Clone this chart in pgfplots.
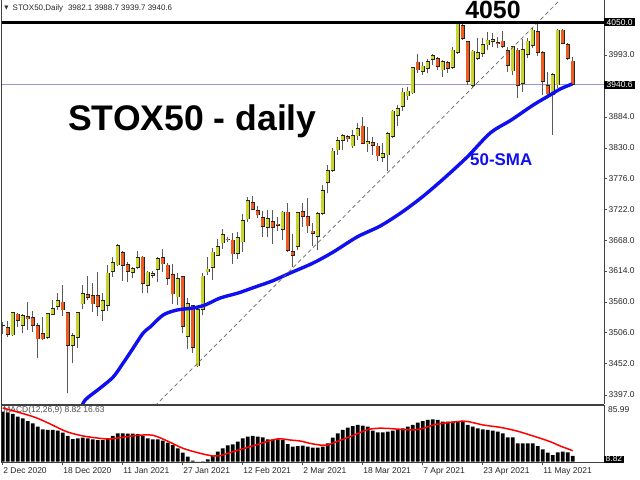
\documentclass[border=0pt]{standalone}
\usepackage{fontspec}
\setmainfont{Liberation Sans}
\newfontfamily\dejavu{DejaVu Sans}
\usepackage{pgfplots}
\pgfplotsset{compat=1.18}
\usepackage{pgfplotstable}

\definecolor{bull}{RGB}{200,212,40}
\definecolor{bear}{RGB}{240,90,30}
\definecolor{wick}{RGB}{90,90,90}
\definecolor{bidline}{RGB}{150,150,215}
\definecolor{smablue}{RGB}{15,15,240}
\newcommand\ticks{\fontsize{8.5}{10}\selectfont}

% daily candles: bar index, open, high, low, close
\pgfplotstableread{
i o h l c
1 3519.4 3525.2 3503.6 3518.2
2 3515.3 3526.9 3498.9 3503.1
3 3501.8 3542.7 3500.1 3541.6
4 3538.7 3540.9 3516.4 3526.9
5 3518.1 3538.7 3504.8 3535.7
6 3533.9 3560.2 3510.6 3529.9
7 3532.9 3544.4 3507.6 3518.1
8 3518.1 3522.4 3462.1 3494.8
9 3504.8 3532.9 3493.1 3494.8
10 3497.1 3540.9 3494.8 3539.2
11 3538.1 3563.2 3536.9 3548.7
12 3551.5 3575.0 3545.7 3562.0
13 3559.7 3589.5 3535.2 3545.7
14 3541.6 3542.7 3399.6 3483.1
15 3483.1 3504.8 3452.2 3500.6
16 3497.8 3542.7 3478.5 3541.6
17 3556.2 3589.5 3547.4 3574.3
18 3572.5 3605.8 3563.2 3567.2
19 3571.4 3592.5 3542.7 3556.2
20 3570.7 3611.8 3535.2 3552.2
21 3545.1 3575.0 3526.9 3562.0
22 3553.9 3625.1 3543.4 3610.5
23 3613.5 3638.1 3604.0 3629.3
24 3624.6 3660.8 3622.8 3659.1
25 3646.8 3649.6 3597.0 3624.0
26 3625.1 3629.3 3595.3 3612.8
27 3611.1 3621.6 3601.2 3618.1
28 3620.5 3649.1 3617.0 3638.1
29 3638.6 3640.9 3575.0 3592.5
30 3589.0 3614.6 3575.0 3612.3
31 3606.5 3614.6 3601.2 3609.3
32 3617.0 3638.1 3595.3 3635.6
33 3638.1 3652.1 3612.8 3626.3
34 3624.6 3627.5 3589.5 3601.2
35 3608.3 3626.3 3556.2 3573.7
36 3568.5 3610.0 3554.4 3601.2
37 3604.0 3605.3 3504.8 3516.4
38 3498.9 3566.2 3476.8 3557.4
39 3553.2 3555.0 3470.8 3480.3
40 3447.5 3552.7 3445.2 3546.9
41 3546.9 3610.0 3536.9 3605.3
42 3612.3 3639.1 3607.0 3617.5
43 3620.5 3654.9 3598.3 3647.3
44 3641.6 3670.1 3640.3 3657.3
45 3663.1 3687.7 3652.6 3678.4
46 3670.1 3673.1 3665.4 3668.4
47 3668.4 3680.1 3626.3 3643.8
48 3645.1 3682.9 3635.1 3673.1
49 3664.9 3713.4 3647.9 3702.9
50 3705.2 3743.2 3700.5 3737.3
51 3734.5 3746.0 3721.0 3722.2
52 3719.7 3728.0 3706.9 3712.2
53 3708.2 3719.7 3674.2 3692.4
54 3690.6 3721.0 3673.1 3706.4
55 3700.5 3721.0 3661.4 3690.6
56 3696.4 3709.2 3684.2 3694.0
57 3687.1 3719.2 3668.4 3717.5
58 3717.5 3732.7 3647.9 3649.6
59 3648.6 3678.9 3621.6 3641.6
60 3656.6 3718.0 3650.8 3716.2
61 3718.0 3732.7 3691.7 3709.2
62 3709.2 3741.5 3680.1 3692.9
63 3684.2 3697.7 3657.9 3679.4
64 3674.2 3718.0 3650.8 3715.2
65 3715.2 3764.8 3712.2 3755.5
66 3768.8 3799.3 3750.2 3789.9
67 3789.9 3830.2 3788.1 3824.4
68 3826.1 3848.4 3817.4 3842.5
69 3842.5 3853.7 3826.1 3851.2
70 3849.5 3852.4 3840.7 3845.4
71 3833.2 3861.2 3830.2 3851.9
72 3850.7 3873.0 3843.7 3864.2
73 3868.2 3883.5 3836.7 3837.9
74 3836.7 3867.0 3823.2 3841.4
75 3839.6 3848.4 3817.4 3833.7
76 3833.2 3838.9 3807.4 3815.6
77 3813.4 3837.9 3805.6 3820.4
78 3817.4 3858.2 3789.9 3855.4
79 3849.5 3896.3 3846.7 3894.5
80 3886.3 3905.0 3868.2 3899.3
81 3902.1 3934.3 3895.0 3927.8
82 3920.8 3937.1 3913.8 3929.6
83 3926.1 3972.2 3924.8 3970.4
84 3980.4 3994.4 3960.6 3966.4
85 3963.4 3980.9 3957.6 3973.4
86 3969.4 3985.1 3960.6 3980.9
87 3985.1 3994.4 3975.2 3992.2
88 3986.9 3989.7 3966.4 3972.2
89 3966.4 3983.9 3954.6 3980.9
90 3979.2 3982.7 3960.6 3969.4
91 3971.1 4007.2 3968.1 4001.4
92 3996.7 4052.3 3993.9 4048.3
93 4044.0 4046.5 4019.0 4022.0
94 4016.0 4017.2 3940.1 3945.9
95 3938.9 4001.4 3935.4 3999.7
96 3986.9 4022.0 3983.9 3996.7
97 3995.7 4023.0 3989.7 4011.4
98 4010.2 4032.5 4001.4 4019.0
99 4016.0 4030.7 4007.2 4020.2
100 4014.9 4024.8 4004.4 4012.5
101 4017.2 4034.8 4004.4 4007.2
102 4000.9 4007.2 3963.4 3973.9
103 3964.6 4008.5 3957.6 4007.2
104 4001.4 4004.4 3917.8 3938.9
105 3943.1 4020.7 3928.4 4002.7
106 3993.9 4023.0 3988.0 4017.2
107 4009.0 4039.5 4004.4 4036.5
108 4033.5 4051.1 3991.5 3997.4
109 3997.4 3999.7 3922.6 3945.9
110 3938.9 3962.4 3916.8 3924.3
111 3923.8 3960.6 3852.4 3958.9
112 3940.1 4038.3 3935.4 4036.5
113 4036.5 4038.3 4011.4 4013.2
114 4011.4 4013.2 3983.9 3986.9
115 3982.1 3988.7 3939.7 3940.6
}\candles

% MACD(12,26,9) main line, drawn as histogram
\pgfplotstableread{
i m
1 75.9
2 74.9
3 72.4
4 68.3
5 65.8
6 61.7
7 58.2
8 53.1
9 49.1
10 48.1
11 48.1
12 47.1
13 44.0
14 39.0
15 34.4
16 35.4
17 36.4
18 35.4
19 33.9
20 32.9
21 32.9
22 35.4
23 39.0
24 43.0
25 43.0
26 42.5
27 42.5
28 42.0
29 39.0
30 35.4
31 33.9
32 33.9
33 31.9
34 28.8
35 25.3
36 20.2
37 13.7
38 7.6
39 1.5
40 0.2
41 0.5
42 3.5
43 8.6
44 15.2
45 20.2
46 24.8
47 26.3
48 30.4
49 35.4
50 38.0
51 39.0
52 38.0
53 36.9
54 33.9
55 33.9
56 33.9
57 32.9
58 26.8
59 22.8
60 23.8
61 24.3
62 22.8
63 21.3
64 21.3
65 22.8
66 27.8
67 36.4
68 43.0
69 48.1
70 51.6
71 54.1
72 55.7
73 54.6
74 53.1
75 47.1
76 44.5
77 44.5
78 45.5
79 47.1
80 49.6
81 50.6
82 53.1
83 55.7
84 59.2
85 61.7
86 63.3
87 64.3
88 63.3
89 60.7
90 60.7
91 60.7
92 61.2
93 62.2
94 55.7
95 53.1
96 50.6
97 49.1
98 48.1
99 47.1
100 45.5
101 43.0
102 36.9
103 36.9
104 27.8
105 27.8
106 27.8
107 27.8
108 23.8
109 18.7
110 13.7
111 10.1
112 14.2
113 15.2
114 14.2
115 8.8
}\macd

\begin{document}
\begin{tikzpicture}

% ---------- price panel ----------
\begin{axis}[
    at={(1.5bp,76bp)}, anchor=south west,
    scale only axis, width=602.5bp, height=404bp,
    xmin=0.76, xmax=121.26, ymin=3380.9, ymax=4089.1,
    axis x line*=bottom, axis y line*=right,
    axis line style={-, black!75, line width=0.8bp},
    xtick=\empty,
    ytick={3397,3452,3506,3560,3614,3668,3722,3776,3830,3884,3993},
    yticklabels={3397.0,3452.0,3506.0,3560.0,3614.0,3668.0,3722.0,3776.0,3830.0,3884.0,3993.0},
    yticklabel style={font=\ticks, text=black!85, anchor=west, inner sep=1.5bp},
    tick align=outside, major tick length=3bp,
    tick style={black!70, line width=0.6bp},
    clip mode=individual,
  ]
  % bid line
  \addplot[bidline, line width=0.9bp] coordinates {(0,3940.6) (122,3940.6)};

  % wicks
  \addplot[draw=wick, line width=1bp, quiver={u=0, v={\thisrow{h}-\thisrow{l}}}]
    table[x=i, y=l] {\candles};
  % body outlines
  \addplot[draw=black!85, line width=4bp, quiver={u=0, v={abs(\thisrow{c}-\thisrow{o})+1.4}}]
    table[x=i, y expr={min(\thisrow{o},\thisrow{c})-0.7}] {\candles};
  % bull bodies
  \addplot[draw=bull, line width=2.6bp,
      restrict expr to domain={\thisrow{c}-\thisrow{o}}{0:1000},
      quiver={u=0, v={max(abs(\thisrow{c}-\thisrow{o})-1.2,0)}}]
    table[x=i, y expr={min(\thisrow{o},\thisrow{c})+0.6}] {\candles};
  % bear bodies
  \addplot[draw=bear, line width=2.6bp,
      restrict expr to domain={\thisrow{c}-\thisrow{o}}{-1000:-0.001},
      quiver={u=0, v={max(abs(\thisrow{c}-\thisrow{o})-1.2,0)}}]
    table[x=i, y expr={min(\thisrow{o},\thisrow{c})+0.6}] {\candles};

  % 50-SMA
  \addplot[smablue, line width=3.4bp, smooth] coordinates {
    (16.5,3370) (17.5,3387.9) (20.5,3408.9) (23.1,3428.2) (25.1,3452.8)
    (27.1,3479.0) (29.1,3505.4) (30.5,3515.9) (33.1,3537.0) (35.9,3545.7)
    (39.1,3549.2) (41.5,3554.5) (44.5,3566.7) (48.1,3575.5) (51.5,3586.0)
    (54.9,3596.5) (58.5,3610.5) (63.1,3628.1) (67.1,3647.3) (71.9,3673.8)
    (76.5,3692.9) (80.9,3717.5) (84.9,3743.8) (88.9,3773.6) (93.9,3813.9)
    (98.5,3855.9) (102.7,3878.7) (107.1,3905.0) (110.5,3922.6) (112.5,3933.1)
    (114.9,3941.9)
  };

  % trend line
  \addplot[black!60, line width=0.7bp, dash pattern=on 4bp off 3bp]
    coordinates {(28.46,3351.1) (113.06,4094.4)};

  % 4050 resistance
  \addplot[black, line width=3bp] coordinates {(0,4050) (122,4050)};

  \draw[black!75, line width=0.8bp] (rel axis cs:0,0) -- (rel axis cs:0,1);

  \node[fill=black, text=white, font=\ticks, anchor=west, inner xsep=2.5bp, inner ysep=1bp]
    at (axis cs:121.26,4050) {4050.0};
  \node[fill=black, text=white, font=\ticks, anchor=west, inner xsep=2.5bp, inner ysep=1bp]
    at (axis cs:121.26,3940.6) {3940.6};
\end{axis}

% ---------- MACD panel ----------
\begin{axis}[
    at={(1.5bp,17.5bp)}, anchor=south west,
    scale only axis, width=602.5bp, height=57.5bp,
    xmin=0.76, xmax=121.26, ymin=-1.2, ymax=86,
    axis line style={black!75, line width=0.8bp},
    ytick=\empty,
    xtick={1,13,25,37,49,61,73,85,97,109},
    xticklabels={2 Dec 2020,18 Dec 2020,11 Jan 2021,27 Jan 2021,12 Feb 2021,
                 2 Mar 2021,18 Mar 2021,7 Apr 2021,23 Apr 2021,11 May 2021},
    xticklabel style={font=\ticks, text=black!85, anchor=north west, inner xsep=0.5bp, inner ysep=1.5bp},
    xtick pos=left, tick align=outside, major tick length=3bp,
    tick style={black!70, line width=0.6bp},
    clip mode=individual,
  ]
  \node[anchor=north west, font=\ticks, text=black!70, inner sep=1bp] at (axis cs:0.9,86) {MACD(12,26,9) 8.82 16.63};
  \addplot[ybar, bar width=3.8bp, fill=black, draw=none] table[x=i, y=m] {\macd};
  \addplot[red, line width=1.5bp, smooth] coordinates {
    (1,81.5) (7.1,68.3) (10.5,57.2) (13.8,45.5) (17.1,39.0) (20.5,35.4)
    (22.5,34.4) (25.8,38.0) (29.1,40.5) (31.1,40.0) (33.8,31.9) (37.1,20.2)
    (40.5,12.7) (43.1,8.6) (44.5,9.1) (47.1,15.2) (50.5,22.8) (53.8,30.4)
    (55.8,34.4) (57.1,34.4) (58.5,32.9) (60.5,31.4) (62.5,27.8) (64.5,25.3)
    (66,25.3) (67.2,28.8) (70.5,38.0) (73.8,48.1) (75.8,50.6) (77.8,50.6)
    (80.5,49.1) (83.1,48.1) (85.1,50.6) (87.1,55.7) (89.1,58.2) (91.8,60.7)
    (93.8,61.2) (97.1,55.7) (100.5,52.1) (103.8,46.6) (107.1,39.0)
    (110.5,30.4) (112.5,23.8) (113.8,20.2) (115,16.6)
  };
  \node[anchor=north west, font=\ticks, text=black!85, inner sep=1bp] at (axis cs:121.26,86) {\hspace{3bp}85.99};
  \node[fill=black, text=white, font=\ticks, anchor=west, inner xsep=1.5bp, inner ysep=0.5bp]
    at (axis cs:121.26,4) {8.82};
\end{axis}

% ---------- header and annotations ----------
\node[anchor=center, font=\dejavu\fontsize{5.5}{6}\selectfont, text=black!80] at (6.5bp,471.5bp) {▼};
\node[anchor=west, font=\fontsize{8}{9.5}\selectfont, text=black!85, inner sep=0pt]
  at (12.5bp,471.5bp) {STOX50,Daily\hspace{5bp}3982.1 3988.7 3939.7 3940.6};
\node[anchor=base, font=\bfseries\fontsize{25}{27}\selectfont, inner sep=0pt] at (493bp,461bp) {4050};
\node[anchor=base west, font=\bfseries\fontsize{35.7}{40}\selectfont, inner sep=0pt] at (68bp,349bp) {STOX50 - daily};
\node[anchor=base west, font=\bfseries\fontsize{17}{19}\selectfont, text=smablue, inner sep=0pt] at (470bp,314.5bp) {50-SMA};

\pgfresetboundingbox
\path[use as bounding box] (0bp,0bp) rectangle (640bp,480bp);
\end{tikzpicture}
\end{document}
